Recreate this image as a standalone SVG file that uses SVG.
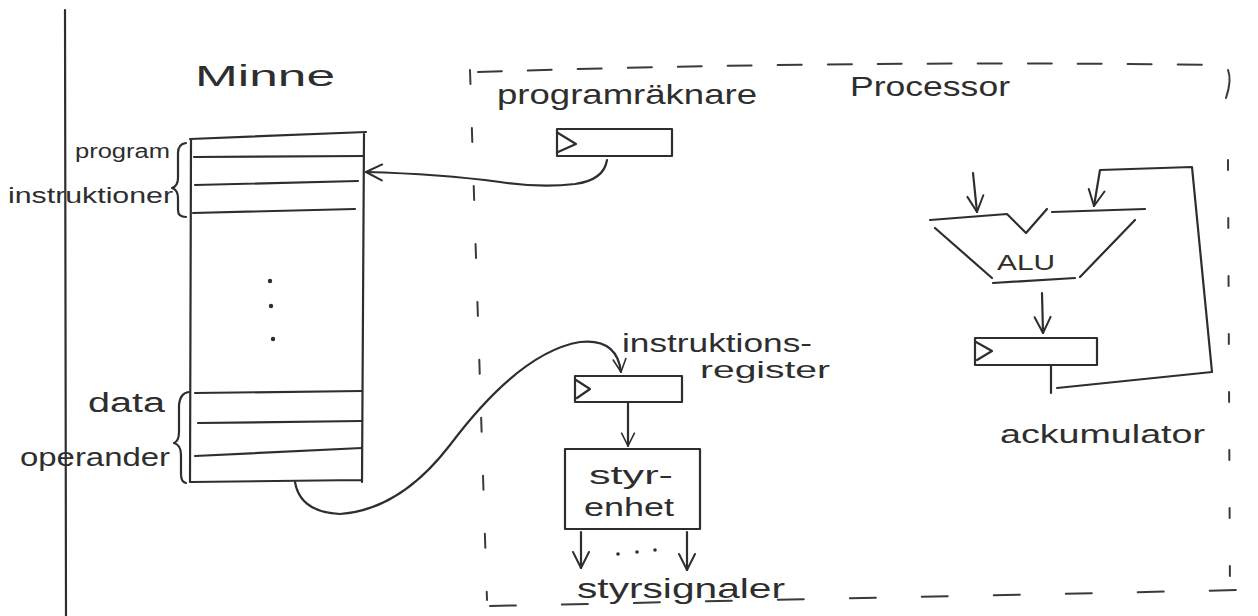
<svg xmlns="http://www.w3.org/2000/svg" width="1258" height="616" viewBox="0 0 1258 616">
<defs>
<style>
.ln{fill:none;stroke:#2e2e2e;stroke-width:2.2;stroke-linecap:round;stroke-linejoin:round}
.dash{fill:none;stroke:#3a3a3a;stroke-width:2;stroke-linecap:round}
.t{font-family:"Liberation Sans","DejaVu Sans",sans-serif;fill:#2e2e2e}
</style>
<marker id="arr" viewBox="0 0 20 20" refX="18" refY="10" markerWidth="20" markerHeight="20" markerUnits="userSpaceOnUse" orient="auto">
<path d="M2,2 L18,10 L2,18" fill="none" stroke="#2e2e2e" stroke-width="2" stroke-linecap="round" stroke-linejoin="round"/>
</marker>
<marker id="arrs" viewBox="0 0 20 20" refX="18" refY="10" markerWidth="16" markerHeight="16" markerUnits="userSpaceOnUse" orient="auto">
<path d="M2,2 L18,10 L2,18" fill="none" stroke="#2e2e2e" stroke-width="2" stroke-linecap="round" stroke-linejoin="round"/>
</marker>
</defs>
<rect width="1258" height="616" fill="#ffffff"/>

<g id="margin">
<line class="ln" x1="65" y1="10" x2="66" y2="616"/>
</g>

<g id="memory">
<text class="t" x="195" y="86" font-size="30" textLength="140" lengthAdjust="spacingAndGlyphs">Minne</text>
<path class="ln" d="M190,139 L366,132 M191,139 L190,482 M364,134 L362,482 M191,482 L362,480"/>
<path class="ln" d="M194,157 L364,156 M195,185 L358,181 M193,213 L355,209"/>
<path class="ln" d="M195,393 L362,391 M198,423 L362,421 M195,456 L362,448"/>
<circle cx="270" cy="281" r="2.2" fill="#2e2e2e"/>
<circle cx="271" cy="306" r="2.2" fill="#2e2e2e"/>
<circle cx="273" cy="339" r="2.2" fill="#2e2e2e"/>
<text class="t" x="75" y="158" font-size="20" textLength="95" lengthAdjust="spacingAndGlyphs">program</text>
<text class="t" x="8" y="203" font-size="22" textLength="165" lengthAdjust="spacingAndGlyphs">instruktioner</text>
<path class="ln" d="M186,143 Q178,144 178,153 L178,178 Q178,186 172,188 Q178,190 178,198 L178,210 Q178,217 186,217"/>
<text class="t" x="88" y="412" font-size="27" textLength="77" lengthAdjust="spacingAndGlyphs">data</text>
<text class="t" x="20" y="466" font-size="25" textLength="150" lengthAdjust="spacingAndGlyphs">operander</text>
<path class="ln" d="M189,392 Q180,393 179,405 L179,432 Q179,441 174,443 Q181,445 181,455 L181,474 Q181,482 186,483"/>
</g>

<g id="processor">
<path class="dash" d="M478,72 Q840,60 1222,65" stroke-dasharray="24,26"/>
<path class="dash" d="M1228,70 Q1232,80 1226,98" />
<path class="dash" d="M1228,160 L1230,600" stroke-dasharray="10,48"/>
<path class="dash" d="M470,70 L487,600" stroke-dasharray="14,44"/>
<path class="dash" d="M490,606 Q860,598 1240,590" stroke-dasharray="26,46"/>
<text class="t" x="850" y="96" font-size="27" textLength="160" lengthAdjust="spacingAndGlyphs">Processor</text>
</g>

<g id="pc">
<text class="t" x="497" y="104" font-size="28" textLength="260" lengthAdjust="spacingAndGlyphs">programräknare</text>
<rect class="ln" x="557" y="129" width="115" height="27"/>
<path class="ln" d="M558,133 L576,144 L558,152"/>
</g>

<g id="ir">
<text class="t" x="622" y="352" font-size="26" textLength="190" lengthAdjust="spacingAndGlyphs">instruktions-</text>
<text class="t" x="700" y="378" font-size="24" textLength="130" lengthAdjust="spacingAndGlyphs">register</text>
<rect class="ln" x="575" y="376" width="107" height="26"/>
<path class="ln" d="M576,380 L590,389 L577,398"/>
</g>

<g id="control">
<rect class="ln" x="565" y="449" width="135" height="80"/>
<text class="t" x="589" y="484" font-size="26" textLength="84" lengthAdjust="spacingAndGlyphs">styr-</text>
<text class="t" x="584" y="516" font-size="26" textLength="90" lengthAdjust="spacingAndGlyphs">enhet</text>
<circle cx="618" cy="554" r="1.8" fill="#2e2e2e"/>
<circle cx="637" cy="552" r="1.8" fill="#2e2e2e"/>
<circle cx="655" cy="550" r="1.8" fill="#2e2e2e"/>
<text class="t" x="577" y="598" font-size="28" textLength="208" lengthAdjust="spacingAndGlyphs">styrsignaler</text>
</g>

<g id="alu">
<path class="ln" d="M930,220 L1007,214 L1026,233 L1047,209 M1052,212 L1145,209 M935,228 L992,278 M1135,220 L1080,277 M993,283 L1075,278"/>
<text class="t" x="997" y="270" font-size="22" textLength="58" lengthAdjust="spacingAndGlyphs">ALU</text>
</g>

<g id="acc">
<rect class="ln" x="975" y="338" width="122" height="27"/>
<path class="ln" d="M976,342 L992,351 L977,360"/>
<text class="t" x="1000" y="443" font-size="26" textLength="205" lengthAdjust="spacingAndGlyphs">ackumulator</text>
</g>

<g id="connectors">
<path class="ln" d="M607,160 Q604,180 575,184 Q540,188 500,182 Q440,174 366,172" marker-end="url(#arr)"/>
<path class="ln" d="M295,482 Q300,512 340,514 Q400,510 450,445 Q520,352 580,342 Q617,338 621,372" marker-end="url(#arrs)"/>
<path class="ln" d="M628,403 L628,446" marker-end="url(#arrs)"/>
<path class="ln" d="M581,532 L581,568" marker-end="url(#arr)"/>
<path class="ln" d="M687,532 L687,570" marker-end="url(#arr)"/>
<path class="ln" d="M973,173 L977,212" marker-end="url(#arr)"/>
<path class="ln" d="M1042,293 L1043,333" marker-end="url(#arr)"/>
<path class="ln" d="M1051,365 L1051,393"/>
<path class="ln" d="M1057,388 L1212,372 L1192,167 L1100,170 L1094,206" marker-end="url(#arr)"/>
</g>
</svg>
